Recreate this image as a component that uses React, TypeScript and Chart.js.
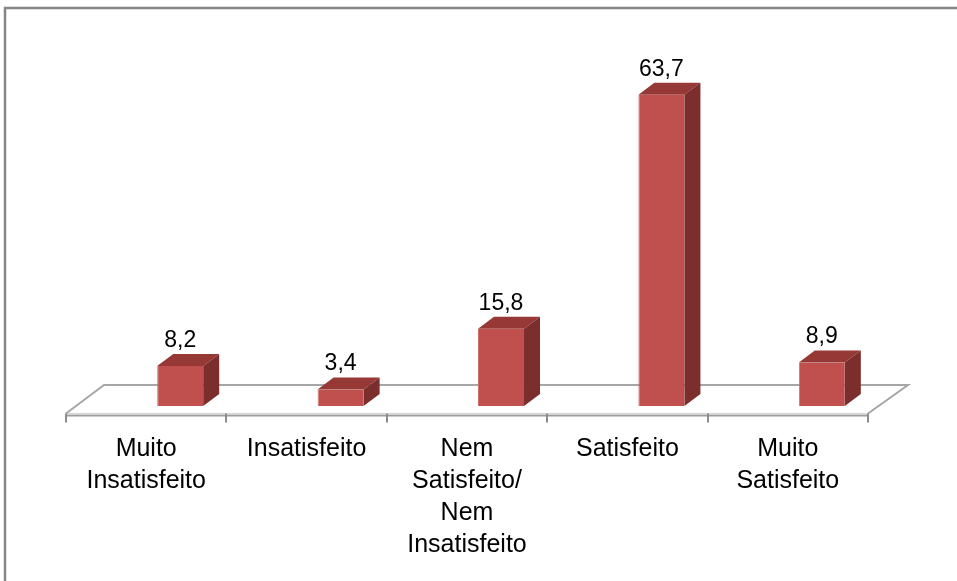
import React, { useEffect, useRef } from "react";
import { Chart, registerables } from "chart.js";

Chart.register(...registerables);

const categories: string[][] = [
  ["Muito", "Insatisfeito"],
  ["Insatisfeito"],
  ["Nem", "Satisfeito/", "Nem", "Insatisfeito"],
  ["Satisfeito"],
  ["Muito", "Satisfeito"],
];
const values: number[] = [8.2, 3.4, 15.8, 63.7, 8.9];
const valueLabels: string[] = ["8,2", "3,4", "15,8", "63,7", "8,9"];

const FRONT = "#C0504D";
const TOP = "#953836";
const SIDE = "#7B2E2C";
const DX = 16;
const DY = 12;
const SHIFT = 34;

const threeD = {
  id: "threeD",
  beforeDatasetsDraw(chart: any) {
    const ctx = chart.ctx;
    const area = chart.chartArea;
    const base = chart.scales.y.getPixelForValue(0);
    const fl = area.left - SHIFT;
    const fr = area.right - SHIFT;
    const fy = base + 7.5;
    const by = base - 21;
    const bdx = 38;
    ctx.save();
    // outer border
    ctx.strokeStyle = "#868686";
    ctx.lineWidth = 2.5;
    ctx.beginPath();
    ctx.moveTo(5, 600);
    ctx.lineTo(5, 8);
    ctx.lineTo(1000, 8);
    ctx.stroke();
    // floor top
    ctx.fillStyle = "#FFFFFF";
    ctx.beginPath();
    ctx.moveTo(fl, fy);
    ctx.lineTo(fl + bdx, by);
    ctx.lineTo(fr + bdx + 2, by);
    ctx.lineTo(fr, fy);
    ctx.closePath();
    ctx.fill();
    // front slab
    ctx.fillStyle = "#D4D4D4";
    ctx.fillRect(fl, fy - 0.5, fr - fl, 2);
    ctx.strokeStyle = "#9C9C9C";
    ctx.lineWidth = 1.5;
    ctx.beginPath();
    ctx.moveTo(fl, fy + 2.2);
    ctx.lineTo(fr, fy + 2.2);
    ctx.stroke();
    ctx.strokeStyle = "#A6A6A6";
    ctx.lineWidth = 2;
    ctx.beginPath();
    ctx.moveTo(fl, fy);
    ctx.lineTo(fl + bdx, by);
    ctx.lineTo(fr + bdx + 2, by);
    ctx.lineTo(fr, fy);
    ctx.stroke();
    // ticks
    ctx.strokeStyle = "#8C8C8C";
    ctx.lineWidth = 2;
    const n = chart.data.labels.length;
    const step = (fr - fl) / n;
    for (let i = 0; i <= n; i++) {
      const x = Math.round(fl + i * step);
      ctx.beginPath();
      ctx.moveTo(x, fy);
      ctx.lineTo(x, fy + 9);
      ctx.stroke();
    }
    ctx.restore();
  },
  afterDatasetsDraw(chart: any) {
    const ctx = chart.ctx;
    const meta = chart.getDatasetMeta(0);
    ctx.save();
    meta.data.forEach((bar: any, i: number) => {
      const p = bar.getProps(["x", "y", "base", "width"], true);
      const l = p.x - p.width / 2;
      const r = p.x + p.width / 2;
      // top face
      ctx.fillStyle = TOP;
      ctx.beginPath();
      ctx.moveTo(l, p.y);
      ctx.lineTo(l + DX, p.y - DY);
      ctx.lineTo(r + DX, p.y - DY);
      ctx.lineTo(r, p.y);
      ctx.closePath();
      ctx.fill();
      // side face
      ctx.fillStyle = SIDE;
      ctx.beginPath();
      ctx.moveTo(r, p.y);
      ctx.lineTo(r + DX, p.y - DY);
      ctx.lineTo(r + DX, p.base - DY);
      ctx.lineTo(r, p.base);
      ctx.closePath();
      ctx.fill();
      // label
      ctx.fillStyle = "#000000";
      ctx.font = "23px 'Liberation Sans', Arial, sans-serif";
      ctx.textAlign = "center";
      ctx.textBaseline = "bottom";
      ctx.fillText(valueLabels[i], p.x, p.y - DY - 2);
    });
    ctx.restore();
  },
};

export default function App() {
  const ref = useRef<HTMLCanvasElement | null>(null);
  useEffect(() => {
    if (!ref.current) return;
    const chart = new Chart(ref.current, {
      type: "bar",
      data: {
        labels: categories,
        datasets: [
          {
            data: values,
            backgroundColor: FRONT,
            borderColor: "#CF706C",
            borderWidth: { left: 1, top: 0, right: 0, bottom: 0 },
            barPercentage: 0.287,
            categoryPercentage: 1,
          },
        ],
      },
      options: {
        animation: false,
        responsive: false,
        maintainAspectRatio: false,
        layout: { padding: { left: 100, right: 55, top: 64, bottom: 0 } },
        plugins: { legend: { display: false }, tooltip: { enabled: false } },
        scales: {
          x: {
            grid: { display: false, drawTicks: false },
            border: { display: false },
            afterFit: (s: any) => {
              s.height = 175;
            },
            ticks: {
              padding: 27,
              labelOffset: -SHIFT,
              color: "#000000",
              maxRotation: 0,
              autoSkip: false,
              font: { family: "'Liberation Sans', Arial, sans-serif", size: 25, lineHeight: 1.28 },
            },
          },
          y: { display: false, min: 0, max: 70 },
        },
      },
      plugins: [threeD],
    });
    return () => chart.destroy();
  }, []);
  return (
    <div style={{ position: "fixed", left: 0, top: 0, width: 957, height: 581, background: "#fff" }}>
      <canvas ref={ref} width={957} height={581} style={{ display: "block" }} />
    </div>
  );
}
